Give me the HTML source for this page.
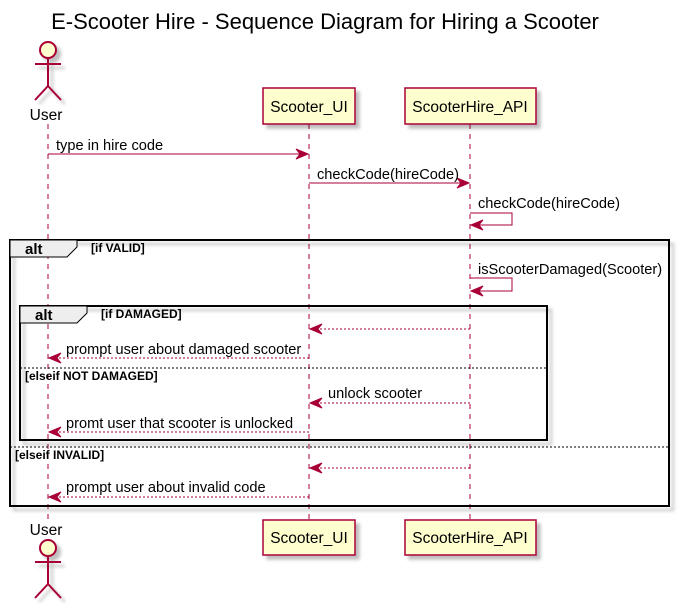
<!DOCTYPE html>
<html><head><meta charset="utf-8"><style>
html,body{margin:0;padding:0;background:#fff}
svg text{font-family:"Liberation Sans","DejaVu Sans",sans-serif}
</style></head><body>
<svg width="683" height="603" viewBox="0 0 683 603" xmlns="http://www.w3.org/2000/svg">
<defs>
<filter id="sh" x="-10%" y="-10%" width="130%" height="140%"><feDropShadow dx="4" dy="4" stdDeviation="1.5" flood-color="#000" flood-opacity="0.25"/></filter>
</defs>
<text x="325" y="29" font-size="22" text-anchor="middle" fill="#000">E-Scooter Hire - Sequence Diagram for Hiring a Scooter</text>

<g stroke="#A80036" stroke-dasharray="5,5" stroke-width="1">
<line x1="48" y1="124" x2="48" y2="520"/>
<line x1="309" y1="124" x2="309" y2="520"/>
<line x1="470" y1="124" x2="470" y2="520"/>
</g>

<g stroke="#A80036" stroke-width="2" fill="none" filter="url(#sh)">
<circle cx="48" cy="50" r="8" fill="#FEFECE"/>
<line x1="48" y1="58" x2="48" y2="86"/>
<line x1="35" y1="64" x2="61" y2="64"/>
<line x1="48" y1="86" x2="35" y2="100"/>
<line x1="48" y1="86" x2="61" y2="100"/>
</g>
<text x="46" y="120" font-size="15.5" text-anchor="middle">User</text>
<text x="46" y="535" font-size="15.5" text-anchor="middle">User</text>
<g stroke="#A80036" stroke-width="2" fill="none" filter="url(#sh)">
<circle cx="48" cy="548" r="8" fill="#FEFECE"/>
<line x1="48" y1="556" x2="48" y2="584"/>
<line x1="35" y1="562" x2="61" y2="562"/>
<line x1="48" y1="584" x2="35" y2="598"/>
<line x1="48" y1="584" x2="61" y2="598"/>
</g>

<g fill="#FEFECE" stroke="#A80036" stroke-width="1.5" filter="url(#sh)">
<rect x="263" y="88" width="92" height="36"/>
<rect x="405" y="88" width="131" height="36"/>
<rect x="263" y="520" width="92" height="35"/>
<rect x="405" y="520" width="131" height="35"/>
</g>
<g font-size="15.5" text-anchor="middle">
<text x="309" y="112">Scooter_UI</text>
<text x="470" y="112">ScooterHire_API</text>
<text x="309" y="543">Scooter_UI</text>
<text x="470" y="543">ScooterHire_API</text>
</g>

<g fill="none" stroke="#000" stroke-width="2" filter="url(#sh)">
<rect x="10" y="240" width="659" height="266"/>
<rect x="20" y="306" width="527" height="134"/>
</g>
<path d="M10,240 L77,240 L77,247 L67,257 L10,257 Z" fill="#EEEEEE" stroke="#000" stroke-width="1"/>
<path d="M20,306 L87,306 L87,313 L77,323 L20,323 Z" fill="#EEEEEE" stroke="#000" stroke-width="1"/>
<g font-size="15" font-weight="bold">
<text x="25" y="254">alt</text>
<text x="35" y="320">alt</text>
</g>
<g font-size="12" font-weight="bold">
<text x="91" y="252">[if VALID]</text>
<text x="101" y="318">[if DAMAGED]</text>
<text x="25" y="380">[elseif NOT DAMAGED]</text>
<text x="15" y="459">[elseif INVALID]</text>
</g>
<g stroke="#000" stroke-width="1" stroke-dasharray="2,2">
<line x1="20" y1="368" x2="547" y2="368"/>
<line x1="10" y1="447" x2="669" y2="447"/>
</g>

<g stroke="#A80036" stroke-width="1" fill="none">
<line x1="48" y1="154" x2="307" y2="154"/>
<line x1="309" y1="183" x2="468" y2="183"/>
<polyline points="470,213 512,213 512,225 472,225"/>
<polyline points="470,278 512,278 512,291 472,291"/>
<g stroke-dasharray="2,2">
<line x1="470" y1="329" x2="311" y2="329"/>
<line x1="309" y1="358" x2="50" y2="358"/>
<line x1="470" y1="403" x2="311" y2="403"/>
<line x1="309" y1="432" x2="50" y2="432"/>
<line x1="470" y1="468" x2="311" y2="468"/>
<line x1="309" y1="497" x2="50" y2="497"/>
</g>
</g>
<g fill="#A80036" stroke="#A80036" stroke-width="1">
<path d="M308,154 L296,149 L300,154 L296,159 Z"/>
<path d="M469,183 L457,178 L461,183 L457,188 Z"/>
<path d="M471,225 L483,220 L479,225 L483,230 Z"/>
<path d="M471,291 L483,286 L479,291 L483,296 Z"/>
<path d="M310,329 L322,324 L318,329 L322,334 Z"/>
<path d="M49,358 L61,353 L57,358 L61,363 Z"/>
<path d="M310,403 L322,398 L318,403 L322,408 Z"/>
<path d="M49,432 L61,427 L57,432 L61,437 Z"/>
<path d="M310,468 L322,463 L318,468 L322,473 Z"/>
<path d="M49,497 L61,492 L57,497 L61,502 Z"/>
</g>
<g font-size="14.6">
<text x="56" y="150">type in hire code</text>
<text x="317" y="179">checkCode(hireCode)</text>
<text x="478" y="208">checkCode(hireCode)</text>
<text x="478" y="274">isScooterDamaged(Scooter)</text>
<text x="66" y="354">prompt user about damaged scooter</text>
<text x="328" y="398">unlock scooter</text>
<text x="66" y="428">promt user that scooter is unlocked</text>
<text x="66" y="492">prompt user about invalid code</text>
</g>
</svg>
</body></html>
